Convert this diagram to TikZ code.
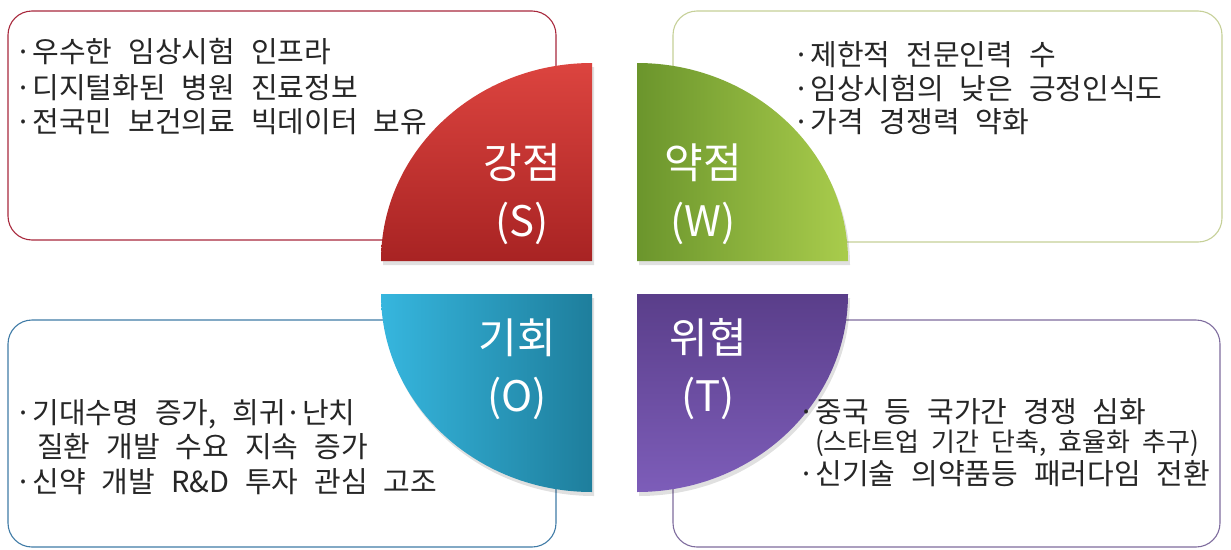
\documentclass[tikz,border=0pt]{standalone}
\usepackage{fontspec}
\setmainfont{Noto Sans CJK KR}
\newfontfamily\kr{Noto Sans CJK KR}
\definecolor{sRedTop}{HTML}{DC443F}
\definecolor{sRedBot}{HTML}{A82323}
\definecolor{wGreenL}{HTML}{6B952C}
\definecolor{wGreenR}{HTML}{A9CC4C}
\definecolor{oBlueL}{HTML}{36B6DE}
\definecolor{oBlueR}{HTML}{1E7E9C}
\definecolor{tPurTop}{HTML}{5A3E8A}
\definecolor{tPurBot}{HTML}{7D5DB9}
\definecolor{sLine}{HTML}{A8283C}
\definecolor{wLine}{HTML}{C6D098}
\definecolor{oLine}{HTML}{3F7BA6}
\definecolor{tLine}{HTML}{7E6C9E}
\newcommand{\bul}{·\hspace{1pt}}
\newcommand{\bigtxtfont}{\kr\fontsize{29}{34}\selectfont\spaceskip=16pt\relax}
\newcommand{\smalltxtfont}{\kr\fontsize{26}{28}\selectfont\spaceskip=12pt\relax}
\tikzset{
  panel/.style={rounded corners=24pt, line width=1.1pt, fill=white},
  quartershadow/.style={fill=black, opacity=0.12},
  lab/.style={text=white, font=\kr\fontsize{42}{46}\selectfont, inner sep=0pt},
  txt/.style={text=black!85, font=\bigtxtfont, inner sep=0pt, anchor=west},
  smalltxt/.style={text=black!85, font=\smalltxtfont, inner sep=0pt, anchor=west},
}
\begin{document}
\begin{tikzpicture}[x=1pt,y=-1pt]
\useasboundingbox (0,0) rectangle (1231,549);
\fill[white] (0,0) rectangle (1231,549);
% panels
\draw[panel, draw=sLine] (8,11) rectangle (556,240);
\draw[panel, draw=wLine] (673,11) rectangle (1222,242);
\draw[panel, draw=oLine] (8,320) rectangle (556,547);
\draw[panel, draw=tLine] (673,320) rectangle (1220,547);
% shadows
\fill[quartershadow] (383,265) .. controls (383,155.6) and (477.5,67) .. (594,67) -- (594,265) -- cycle;
\fill[quartershadow] (639,67) .. controls (755.5,67) and (850,155.6) .. (850,265) -- (639,265) -- cycle;
\fill[quartershadow] (383,298) -- (594,298) -- (594,496) .. controls (477.5,496) and (383,407.4) .. (383,298) -- cycle;
\fill[quartershadow] (639,298) -- (850,298) .. controls (850,407.4) and (755.5,496) .. (639,496) -- cycle;
% quarters
\shade[top color=sRedTop, bottom color=sRedBot]
  (381,261) .. controls (381,151.6) and (475.5,63) .. (592,63) -- (592,261) -- cycle;
\shade[left color=wGreenL, right color=wGreenR]
  (637,63) .. controls (753.5,63) and (848,151.6) .. (848,261) -- (637,261) -- cycle;
\shade[left color=oBlueL, right color=oBlueR]
  (381,294) -- (592,294) -- (592,492) .. controls (475.5,492) and (381,403.4) .. (381,294) -- cycle;
\shade[top color=tPurTop, bottom color=tPurBot]
  (637,294) -- (848,294) .. controls (848,403.4) and (753.5,492) .. (637,492) -- cycle;
% labels
\node[lab] (sA) at (522,163) {강점};
\node[lab] (sB) at (522,223) {(S)};
\node[lab] (wA) at (703,163) {약점};
\node[lab] (wB) at (703,223) {(W)};
\node[lab] (oA) at (517,338) {기회};
\node[lab] (oB) at (517,398) {(O)};
\node[lab] (tA) at (708,338) {위협};
\node[lab] (tB) at (708,398) {(T)};
% texts
\node[txt] (s1) at (15,52) {\bul 우수한 임상시험 인프라};
\node[txt] (s2) at (15,88) {\bul 디지털화된 병원 진료정보};
\node[txt] (s3) at (15,122) {\bul 전국민 보건의료 빅데이터 보유};
\node[txt] (w1) at (793,55) {\bul 제한적 전문인력 수};
\node[txt] (w2) at (793,89) {\bul 임상시험의 낮은 긍정인식도};
\node[txt] (w3) at (793,122) {\bul 가격 경쟁력 약화};
\node[txt] (o1) at (15,414) {\bul 기대수명 증가, 희귀·난치};
\node[txt] (o2) at (37,447) {질환 개발 수요 지속 증가};
\node[txt] (o3) at (15,482) {\bul 신약 개발 R\&D 투자 관심 고조};
\node[txt] (t1) at (798,412) {\bul 중국 등 국가간 경쟁 심화};
\node[smalltxt] (t2) at (815,443) {(스타트업 기간 단축, 효율화 추구)};
\node[txt] (t3) at (798,474) {\bul 신기술 의약품등 패러다임 전환};
\end{tikzpicture}
\end{document}
